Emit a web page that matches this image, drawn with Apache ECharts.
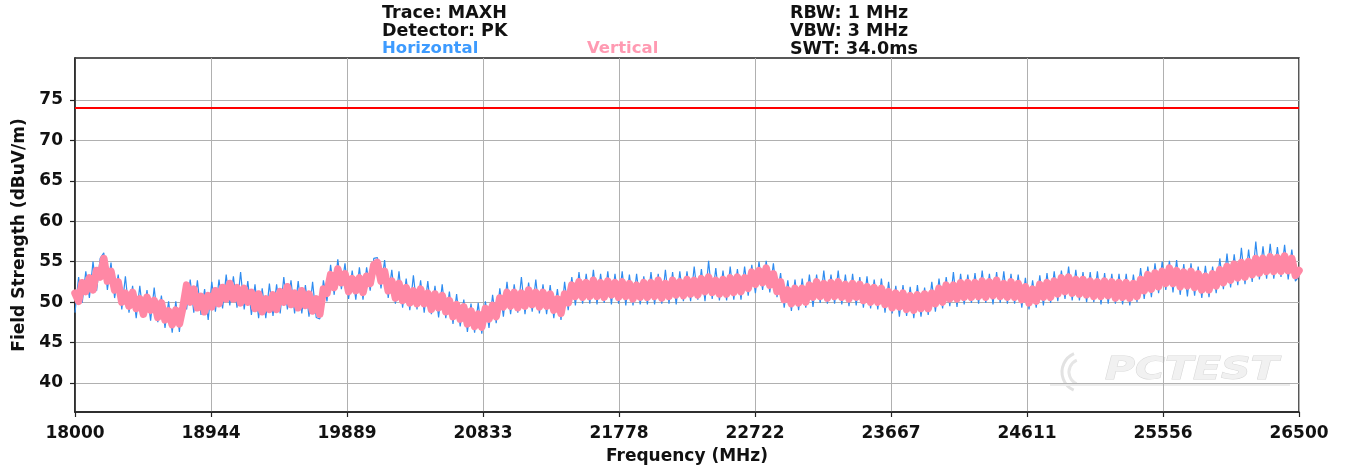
<!DOCTYPE html>
<html><head><meta charset="utf-8">
<script src="https://cdn.jsdelivr.net/npm/echarts@6/dist/echarts.min.js"></script>
<style>html,body{margin:0;padding:0;background:#fff}#c{width:1345px;height:470px}</style>
</head><body><div id="c"></div>
<script>
// ---- data ----
const freqStartMHz = 18000;
const freqStepMHz = 25;
const horizontal = [
48.7,53.1,49.9,53.8,50.5,55.0,51.4,55.4,56.1,51.5,
54.9,50.5,53.4,49.1,53.2,48.7,52.0,48.0,52.0,48.1,
51.5,47.7,51.8,47.5,50.8,46.8,50.1,46.2,50.1,46.3,
51.1,49.1,52.8,48.7,52.7,48.4,51.6,47.8,52.5,48.8,
52.8,49.2,53.4,49.6,53.2,49.3,53.7,49.1,52.6,48.4,
52.2,48.0,51.7,48.0,52.3,48.3,52.2,48.6,53.1,49.1,
52.7,48.6,52.6,48.6,52.1,48.2,52.5,48.1,47.9,52.7,
50.1,54.6,50.9,55.3,51.6,54.8,50.4,53.9,50.3,54.3,
50.3,54.3,51.4,55.4,55.5,51.7,55.2,50.5,54.0,49.8,
53.8,49.3,52.9,49.0,53.3,49.1,52.7,48.7,52.6,48.5,
52.0,48.1,52.2,48.0,51.3,47.3,51.0,47.0,50.3,46.3,
49.8,46.2,49.9,46.1,50.1,46.8,50.9,47.4,51.7,48.2,
52.5,48.5,52.2,48.7,53.1,48.5,52.4,48.8,52.8,48.6,
52.2,48.5,52.1,48.0,51.6,47.8,52.5,49.0,53.1,49.6,
53.7,49.8,53.5,49.8,54.0,49.7,53.5,49.9,53.8,49.7,
53.5,49.8,53.8,49.6,53.4,49.6,53.5,49.7,53.2,49.7,
53.7,49.7,53.5,49.8,54.0,49.8,53.7,49.7,53.8,50.1,
53.8,50.1,54.4,50.3,54.1,50.1,55.1,50.4,54.2,50.2,
53.9,50.2,54.4,50.3,54.1,50.3,54.4,50.8,54.6,51.1,
55.0,51.5,55.1,51.2,54.8,50.6,53.6,49.3,52.7,48.9,
52.8,49.0,52.9,49.3,53.4,49.4,53.4,49.9,53.9,49.8,
53.4,49.8,53.9,49.7,53.4,49.5,53.5,49.6,53.1,49.3,
53.2,49.2,52.8,49.1,52.9,48.7,52.5,48.6,52.0,48.2,
52.1,48.3,51.9,48.0,52.1,48.2,51.8,48.4,52.5,48.8,
52.9,49.2,53.1,49.5,53.7,49.4,53.5,49.7,53.4,49.9,
53.6,49.8,53.9,49.9,53.5,49.7,53.7,49.9,53.8,49.8,
53.5,49.8,53.4,49.3,53.0,49.1,52.7,49.3,53.3,49.6,
53.6,49.9,53.8,50.1,53.9,50.4,54.4,50.2,54.0,50.2,
53.7,50.0,53.7,50.0,53.8,49.7,53.6,49.8,53.5,49.8,
53.5,49.7,53.5,49.6,53.4,50.0,54.2,50.4,54.4,50.6,
54.8,51.1,55.0,51.5,55.1,51.2,55.2,50.9,54.7,50.7,
54.8,50.8,54.4,50.5,54.5,50.6,54.4,51.1,55.4,51.6,
56.0,51.8,55.9,52.1,56.7,52.2,56.5,52.5,57.5,52.8,
56.9,52.9,57.2,52.9,56.8,53.1,57.1,52.8,56.5,52.6,53.2
];
const vertical = [
51.1,50.1,52.4,51.3,53.0,51.5,53.9,53.1,55.4,52.6,
53.8,51.5,52.5,50.0,51.1,49.5,51.2,49.2,50.4,48.5,
50.6,49.0,50.2,48.1,49.9,47.8,48.9,47.2,49.0,47.3,
49.4,52.1,50.0,51.6,49.3,50.7,48.8,50.8,49.4,51.4,
49.8,51.8,50.4,52.3,50.4,51.8,49.9,51.7,50.0,51.2,
49.2,51.0,48.8,50.4,49.1,50.9,49.1,51.3,50.0,51.9,
49.7,51.1,49.3,51.4,49.6,51.0,48.9,50.4,48.5,51.6,
51.1,53.4,51.8,54.1,52.4,53.5,51.3,52.9,51.4,53.0,
51.2,53.2,52.3,54.6,54.9,52.6,53.8,51.4,52.6,50.5,
52.3,50.2,51.8,49.9,51.4,49.8,51.6,49.8,51.1,49.1,
51.0,49.3,50.8,48.8,50.2,48.2,49.7,47.9,49.4,47.3,
48.9,47.0,48.5,46.9,49.2,47.9,49.6,48.2,50.5,49.4,
51.2,49.5,51.2,49.3,51.1,49.5,51.5,49.7,51.2,49.4,
51.2,49.5,51.0,49.0,50.4,48.6,51.0,49.9,52.1,50.7,
52.5,50.6,52.4,50.7,52.7,50.7,52.4,50.6,52.6,50.9,
52.4,50.6,52.5,50.7,52.3,50.4,52.1,50.6,52.4,50.6,
52.4,50.7,52.7,50.5,52.3,50.7,52.7,50.9,52.5,50.8,
52.8,51.0,52.7,50.9,52.9,51.3,53.1,51.2,52.7,51.0,
52.8,51.0,53.0,51.2,53.1,51.3,53.0,51.7,53.7,52.2,
53.9,52.4,54.2,52.1,53.5,51.3,52.5,50.3,51.5,49.8,
51.7,49.9,51.7,50.0,52.1,50.6,52.5,50.7,52.3,50.5,
52.4,50.7,52.5,50.6,52.2,50.4,52.3,50.6,52.2,50.2,
51.9,50.0,51.8,50.0,51.7,49.7,51.3,49.3,51.1,49.4,
51.1,49.1,50.8,49.0,50.9,49.2,51.0,49.2,51.1,49.8,
51.7,50.0,52.1,50.4,52.1,50.4,52.4,50.6,52.4,50.6,
52.4,50.7,52.6,50.6,52.5,50.8,52.7,50.7,52.3,50.6,
52.5,50.6,52.3,50.3,51.9,49.9,51.6,50.1,52.2,50.6,
52.4,50.6,52.6,51.0,53.0,51.3,53.1,51.1,52.8,51.0,
52.8,50.9,52.6,50.7,52.5,50.7,52.6,50.8,52.5,50.5,
52.4,50.6,52.4,50.5,52.3,50.7,52.8,51.4,53.4,51.6,
53.6,51.9,53.8,52.3,54.2,52.3,53.9,51.9,53.7,52.0,
53.8,51.8,53.5,51.5,53.2,51.5,53.5,52.0,54.0,52.4,
54.4,52.7,54.7,53.0,54.9,53.1,55.0,53.4,55.4,53.6,
55.4,53.8,55.6,53.8,55.5,53.8,55.7,53.9,55.4,53.3,53.9
];
const limitLevel = 74;
const xTickValues = [18000, 18944.44, 19888.89, 20833.33, 21777.78, 22722.22, 23666.67, 24611.11, 25555.56, 26500];
const xTickLabels = ['18000','18944','19889','20833','21778','22722','23667','24611','25556','26500'];
const yTickValues = [40, 45, 50, 55, 60, 65, 70, 75];
const headerLeft = ['Trace: MAXH', 'Detector: PK'];
const headerRight = ['RBW: 1 MHz', 'VBW: 3 MHz', 'SWT: 34.0ms'];
const seriesNames = ['Horizontal', 'Vertical'];

// ---- chart ----
const F = "'DejaVu Sans', sans-serif";
const toPairs = arr => arr.map((v, i) => [freqStartMHz + freqStepMHz * i, v]);
const xLabel = v => {
  let best = 0;
  xTickValues.forEach((t, i) => { if (Math.abs(t - v) < Math.abs(xTickValues[best] - v)) best = i; });
  return xTickLabels[best];
};
const hdr = (txt, x, y, color, size) => ({
  type: 'text', x: x, y: y, z: 10,
  style: { text: txt, fill: color || '#111', font: "bold " + (size || 17.5) + "px " + F, textVerticalAlign: 'middle', textAlign: 'left' }
});

const chart = echarts.init(document.getElementById('c'), null, { renderer: 'canvas' });
chart.setOption({
  animation: false,
  backgroundColor: '#fff',
  grid: { left: 75, right: 46, top: 58, bottom: 57, show: true, borderColor: '#222', borderWidth: 1.5 },
  xAxis: {
    type: 'value', min: 18000, max: 26500,
    name: 'Frequency (MHz)', nameLocation: 'middle', nameGap: 36,
    nameTextStyle: { fontFamily: F, fontWeight: 'bold', fontSize: 17, color: '#111' },
    axisLine: { show: true, lineStyle: { color: '#222', width: 1.5 } },
    axisTick: { show: true, length: 5, customValues: xTickValues, lineStyle: { color: '#222', width: 1.2 } },
    axisLabel: { customValues: xTickValues, formatter: xLabel, margin: 13, fontFamily: F, fontWeight: 'bold', fontSize: 17, color: '#111' },
    splitLine: { show: true, lineStyle: { color: '#b0b0b0', width: 1 } }
  },
  yAxis: {
    type: 'value', min: 36.4, max: 80.2,
    name: 'Field Strength (dBuV/m)', nameLocation: 'middle', nameGap: 47, nameRotate: 90,
    nameTextStyle: { fontFamily: F, fontWeight: 'bold', fontSize: 17, color: '#111' },
    axisLine: { show: true, lineStyle: { color: '#222', width: 1.5 } },
    axisTick: { show: true, length: 5, customValues: yTickValues, lineStyle: { color: '#222', width: 1.2 } },
    axisLabel: { customValues: yTickValues, margin: 12, fontFamily: F, fontWeight: 'bold', fontSize: 17, color: '#111' },
    splitLine: { show: true, lineStyle: { color: '#b0b0b0', width: 1 } }
  },
  graphic: [
    hdr(headerLeft[0], 382, 13), hdr(headerLeft[1], 382, 31),
    hdr(seriesNames[0], 382, 49, '#3d9bff', 16.5), hdr(seriesNames[1], 587, 49, '#ff9ab2', 16.5),
    hdr(headerRight[0], 790, 13), hdr(headerRight[1], 790, 31), hdr(headerRight[2], 790, 49),
    { type: 'text', x: 1105, y: 371, z: 0, scaleX: 1.28, scaleY: 1,
      style: { text: 'PCTEST', fill: '#f1f1f1', stroke: '#d9d9d9', lineWidth: 1,
               font: "italic bold 32px 'DejaVu Sans', sans-serif", textVerticalAlign: 'middle' } },
    { type: 'arc', z: 0, shape: { cx: 1082, cy: 372, r: 20, startAngle: 2.0, endAngle: 4.3 },
      style: { stroke: '#e2e2e2', lineWidth: 3, fill: null } },
    { type: 'arc', z: 0, shape: { cx: 1082, cy: 372, r: 13, startAngle: 2.0, endAngle: 4.3 },
      style: { stroke: '#e6e6e6', lineWidth: 3, fill: null } },
    { type: 'line', z: 0, shape: { x1: 1050, y1: 385, x2: 1290, y2: 385 },
      style: { stroke: '#ececec', lineWidth: 2 } }
  ],
  series: [
    { name: seriesNames[0], type: 'line', data: toPairs(horizontal), showSymbol: false, symbol: 'none',
      sampling: null, lineStyle: { color: '#2f8cf0', width: 1.2 }, z: 3 },
    { name: seriesNames[1], type: 'line', data: toPairs(vertical), showSymbol: false, symbol: 'none',
      sampling: null, lineStyle: { color: '#ff88a5', width: 7.5, join: 'round', cap: 'round' }, z: 4,
      markLine: { silent: true, symbol: 'none', label: { show: false },
        lineStyle: { color: '#ff0000', width: 2, type: 'solid' },
        data: [{ yAxis: limitLevel }] } }
  ]
});
</script>
</body></html>
